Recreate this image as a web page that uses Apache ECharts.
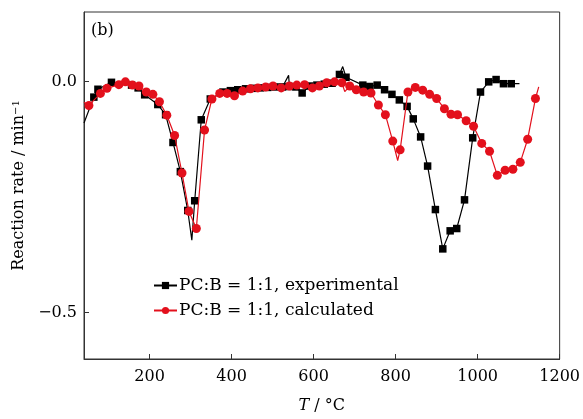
<!DOCTYPE html>
<html><head><meta charset="utf-8">
<script src="https://cdn.jsdelivr.net/npm/echarts@6/dist/echarts.min.js"></script>
<style>html,body{margin:0;padding:0;background:#fff}#c{width:583px;height:419px}</style>
</head><body><div id="c"></div>
<script>
// Experimental (black squares): marker points
const expT = [64, 74, 107, 156, 172, 188, 220, 239, 257, 275, 293, 310, 326, 348, 379, 397, 415, 434, 452, 470, 488, 506, 524, 541, 557, 572, 590, 608, 626, 645, 663, 679, 720, 737, 755, 773, 791, 809, 828, 843, 861, 878, 897, 915, 933, 949, 968, 988, 1007, 1027, 1045, 1063, 1082];
const expV = [-0.034, -0.017, -0.002, -0.008, -0.014, -0.029, -0.05, -0.072, -0.132, -0.195, -0.279, -0.258, -0.083, -0.038, -0.023, -0.02, -0.018, -0.016, -0.015, -0.014, -0.013, -0.012, -0.012, -0.011, -0.012, -0.025, -0.01, -0.008, -0.006, -0.004, 0.015, 0.009, -0.008, -0.011, -0.008, -0.018, -0.028, -0.04, -0.054, -0.081, -0.12, -0.183, -0.277, -0.362, -0.323, -0.318, -0.256, -0.122, -0.023, -0.001, 0.004, -0.005, -0.005];
// Experimental: extra line-only detail points
const expLineT = [40, 303, 539, 548, 671, 1102];
const expLineV = [-0.09, -0.343, 0.013, -0.012, 0.032, -0.005];
// Calculated (red circles): marker points
const calT = [52, 80, 96, 125, 141, 158, 174, 192, 208, 224, 242, 261, 279, 296, 314, 334, 352, 371, 389, 407, 427, 446, 464, 483, 501, 521, 541, 559, 578, 597, 614, 632, 651, 669, 688, 704, 722, 740, 758, 775, 793, 811, 830, 848, 866, 883, 900, 919, 935, 951, 972, 990, 1010, 1029, 1048, 1067, 1086, 1104, 1122, 1141];
const calV = [-0.052, -0.026, -0.015, -0.007, -0.001, -0.008, -0.01, -0.023, -0.028, -0.044, -0.073, -0.117, -0.198, -0.281, -0.318, -0.105, -0.038, -0.026, -0.026, -0.031, -0.021, -0.016, -0.014, -0.012, -0.01, -0.014, -0.01, -0.008, -0.007, -0.014, -0.01, -0.003, -0.001, -0.003, -0.01, -0.018, -0.023, -0.025, -0.051, -0.072, -0.129, -0.148, -0.023, -0.013, -0.019, -0.028, -0.037, -0.059, -0.071, -0.072, -0.085, -0.097, -0.134, -0.151, -0.203, -0.192, -0.19, -0.175, -0.125, -0.037];
// Calculated: extra line-only detail points
const calLineT = [40, 676, 805, 1149];
const calLineV = [-0.045, -0.022, -0.171, -0.012];

const xTicks = [200, 400, 600, 800, 1000, 1200];
const yTicks = [-0.5, 0.0];
const seriesNames = ['PC:B = 1:1, experimental', 'PC:B = 1:1, calculated'];

function build(mt, mv, lt, lv) {
  const pts = [];
  mt.forEach((t, i) => pts.push({ value: [t, mv[i]] }));
  lt.forEach((t, i) => pts.push({ value: [t, lv[i]], symbol: 'none' }));
  pts.sort((a, b) => a.value[0] - b.value[0]);
  return pts;
}

const font = 'DejaVu Serif';
const fs = 16;
const chart = echarts.init(document.getElementById('c'), null, { renderer: 'canvas' });
chart.setOption({
  animation: false,
  backgroundColor: '#fff',
  grid: { left: 84, right: 23, top: 12, bottom: 54, show: true, borderColor: '#333', borderWidth: 1 },
  legend: {
    orient: 'vertical', left: 148, top: 272, itemWidth: 23, itemHeight: 9, itemGap: 8,
    textStyle: { fontFamily: font, fontSize: 17, color: '#000', padding: [0, 0, 0, -3] },
    data: seriesNames
  },
  graphic: [{ type: 'text', left: 91, top: 23, style: { text: '(b)', font: fs + 'px "DejaVu Serif"', fill: '#000' } }],
  xAxis: {
    type: 'value', min: 40, max: 1200,
    name: '{i|T} / °C', nameLocation: 'middle', nameGap: 39,
    nameTextStyle: { fontFamily: font, fontSize: fs, color: '#000', rich: { i: { fontFamily: font, fontSize: fs, fontStyle: 'italic', color: '#000' } } },
    axisLine: { onZero: false, lineStyle: { color: '#333' } },
    axisTick: { inside: true, length: 5, customValues: xTicks, lineStyle: { color: '#333' } },
    axisLabel: { customValues: xTicks, fontFamily: font, fontSize: fs, color: '#000', margin: 10, formatter: v => String(v) },
    splitLine: { show: false }
  },
  yAxis: {
    type: 'value', min: -0.6, max: 0.15,
    name: 'Reaction rate / min{s|−1}', nameLocation: 'middle', nameGap: 52, nameRotate: 90,
    nameTextStyle: { fontFamily: font, fontSize: fs, color: '#000', rich: { s: { fontFamily: font, fontSize: 10, color: '#000', verticalAlign: 'top', padding: [0, 0, 6, 0] } } },
    axisLine: { show: true, onZero: false, lineStyle: { color: '#333' } },
    axisTick: { show: true, inside: true, length: 5, customValues: yTicks, lineStyle: { color: '#333' } },
    axisLabel: { customValues: yTicks, fontFamily: font, fontSize: fs, color: '#000', margin: 7, formatter: v => (v < 0 ? '−' : '') + Math.abs(v).toFixed(1) },
    splitLine: { show: false }
  },
  series: [
    { name: seriesNames[0], type: 'line', data: build(expT, expV, expLineT, expLineV), symbol: 'rect', symbolSize: 7.5,
      itemStyle: { color: '#000' }, lineStyle: { color: '#000', width: 1.2 }, z: 2 },
    { name: seriesNames[1], type: 'line', data: build(calT, calV, calLineT, calLineV), symbol: 'circle', symbolSize: 9,
      itemStyle: { color: '#e3101c' }, lineStyle: { color: '#e3101c', width: 1.2 }, z: 3 }
  ]
});
</script></body></html>
